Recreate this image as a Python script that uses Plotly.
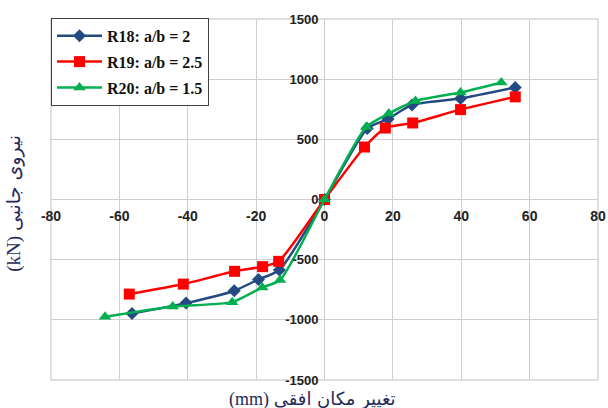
import plotly.graph_objects as go

# Data
r18_x = [-56.3, -40.5, -26.4, -19.3, -13.2, 0, 12.5, 18.6, 25.6, 39.8, 55.8]
r18_y = [-947, -861, -758, -664, -586, 0, 590, 670, 786, 839, 931]

r19_x = [-57.1, -41.3, -26.3, -18.1, -13.4, 0, 11.7, 17.8, 25.8, 39.8, 55.8]
r19_y = [-786, -703, -597, -558, -514, 0, 436, 594, 636, 747, 853]

r20_x = [-64.2, -44.4, -27.0, -18.2, -13.0, 0, 12.2, 18.8, 26.6, 39.8, 51.7]
r20_y = [-975, -889, -853, -731, -669, 0, 603, 714, 819, 889, 972]

series_names = ["R18: a/b = 2", "R19: a/b = 2.5", "R20: a/b = 1.5"]
x_ticks = [-80, -60, -40, -20, 0, 20, 40, 60, 80]
y_ticks = [-1500, -1000, -500, 0, 500, 1000, 1500]

x_title = "(mm) تغییر مکان افقی"
y_title = "(kN) نیروی جانبی"

colors = ["#244A82", "#FF0000", "#00B050"]
symbols = ["diamond", "square", "triangle-up"]
sizes = [10, 11, 11]

fig = go.Figure()
for i, (xs, ys) in enumerate([(r18_x, r18_y), (r19_x, r19_y), (r20_x, r20_y)]):
    fig.add_trace(go.Scatter(
        x=xs, y=ys, name=series_names[i], mode="lines+markers",
        legendgroup="g%d" % i,
        line=dict(color=colors[i], width=2.5, shape="spline", smoothing=0.6),
        marker=dict(symbol=symbols[i], size=sizes[i], color=colors[i]),
    ))

tick_font = dict(family="Liberation Sans, Arial", size=13, color="#222222", weight="bold")

fig.update_layout(
    width=608, height=408,
    margin=dict(l=51, r=10, t=19, b=28),
    paper_bgcolor="white", plot_bgcolor="white",
    showlegend=True,
    legend=dict(
        x=0.0, y=1.003, xanchor="left", yanchor="top",
        bgcolor="white", bordercolor="#404040", borderwidth=1,
        font=dict(family="Liberation Serif, Times New Roman", size=16, color="#111111", weight="bold"),
        tracegroupgap=2, itemwidth=45,
    ),
    xaxis=dict(
        range=[-80, 80], tickmode="array", tickvals=x_ticks,
        ticktext=[str(v) for v in x_ticks],
        anchor="free", position=0.5, side="bottom", automargin=False,
        showgrid=True, gridcolor="#CFCFCF", gridwidth=1,
        zeroline=False, showline=False, ticks="",
        tickfont=dict(family="Liberation Sans, Arial", size=14, color="#222222", weight="bold"),
        ticklabelstandoff=6,
    ),
    yaxis=dict(
        range=[-1500, 1500], tickmode="array", tickvals=y_ticks,
        ticktext=[str(v) for v in y_ticks],
        anchor="free", position=0.5, side="left", automargin=False,
        showgrid=True, gridcolor="#CFCFCF", gridwidth=1,
        zeroline=False, showline=False, ticks="",
        tickfont=tick_font,
        ticklabelstandoff=6,
    ),
    shapes=[dict(type="rect", xref="x domain", yref="y domain", x0=0, x1=1, y0=0, y1=1,
                 line=dict(color="#BFBFBF", width=1), layer="below")],
    annotations=[
        dict(text='<span style="font-family:Liberation Serif">(mm)</span> '
                  '<span style="font-family:DejaVu Sans">تغییر مکان افقی</span>',
             xref="paper", yref="paper", x=0.478, y=-0.01, xanchor="center", yanchor="top",
             showarrow=False, font=dict(size=18, color="#1F2A5A")),
        dict(text='<span style="font-family:Liberation Serif">(kN)</span> '
                  '<span style="font-family:DejaVu Sans">نیروی جانبی</span>',
             xref="paper", yref="paper", x=-0.07, y=0.49, xanchor="center", yanchor="middle",
             textangle=-90, showarrow=False, font=dict(size=19, color="#1F2A5A")),
    ],
)

fig.write_html("out.html")
